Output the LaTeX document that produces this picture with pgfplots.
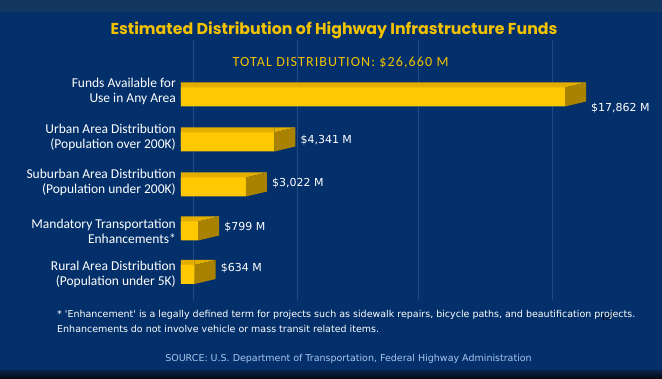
\documentclass[border=0pt]{standalone}
\usepackage{pgfplots}
\usepackage{pgfplotstable}
\pgfplotsset{compat=1.18}
\usepackage{fontspec}
\setmainfont{Carlito}
\newfontfamily\titlefont{Poppins}
\newfontfamily\valfont{DejaVu Sans}
\newfontfamily\subfont[LetterSpace=8]{Carlito}
\definecolor{bgblue}{HTML}{03306A}
\definecolor{bgtop}{HTML}{143761}
\definecolor{bgbot}{HTML}{0A2448}
\definecolor{gridblue}{HTML}{1E4B84}
\definecolor{gold}{HTML}{FFC800}
\definecolor{goldtop}{HTML}{E3AE00}
\definecolor{goldside}{HTML}{A88200}
\definecolor{titleyellow}{HTML}{F2C200}
\definecolor{srcblue}{HTML}{A9C6EE}

\pgfdeclareplotmark{barend}{%
  \pgfpathmoveto{\pgfpoint{0pt}{9.5pt}}%
  \pgfpathlineto{\pgfpoint{21pt}{14.5pt}}%
  \pgfpathlineto{\pgfpoint{0pt}{14.5pt}}%
  \pgfpathclose
  \pgfsetfillcolor{goldtop}\pgfusepath{fill}%
  \pgfpathmoveto{\pgfpoint{0pt}{-9.5pt}}%
  \pgfpathlineto{\pgfpoint{0pt}{9.5pt}}%
  \pgfpathlineto{\pgfpoint{21pt}{14.5pt}}%
  \pgfpathlineto{\pgfpoint{21pt}{-4.5pt}}%
  \pgfpathclose
  \pgfsetfillcolor{goldside}\pgfusepath{fill}%
}

\pgfplotstableread{
v by ly lab
17862 281 270 {\$17,862 M}
4341 236 238 {\$4,341 M}
3022 191 195 {\$3,022 M}
799 147 151 {\$799 M}
634 103.5 110 {\$634 M}
}\datatab

\begin{document}
\begin{tikzpicture}
\useasboundingbox (0pt,0pt) rectangle (662pt,378pt);
\fill[bgblue] (0pt,0pt) rectangle (662pt,378pt);
\fill[bgtop] (0pt,366pt) rectangle (662pt,378pt);
\shade[top color=bgbot, bottom color=black!70!bgbot] (0pt,0pt) rectangle (662pt,8pt);
\begin{axis}[
  at={(181pt,78pt)}, anchor=south west,
  scale only axis, width=473pt, height=260pt,
  xmin=0, xmax=22000, ymin=78, ymax=338,
  axis line style={draw=none}, tick style={draw=none},
  xtick={558,5395,11023,17256}, xticklabel=\empty,
  xmajorgrids, grid style={gridblue, line width=0.7pt},
  ytick={104,147,195.5,240.5,287},
  yticklabels={{Rural Area Distribution\\(Population under 5K)},
               {Mandatory Transportation\\Enhancements*},
               {Suburban Area Distribution\\(Population under 200K)},
               {Urban Area Distribution\\(Population over 200K)},
               {Funds Available for\\Use in Any Area}},
  yticklabel style={align=right, text=white, font=\fontsize{13.5}{15}\selectfont, inner sep=0pt, xshift=-5pt},
  clip=false,
]
\addplot[xbar, bar shift=0pt, bar width=19pt, fill=goldtop, draw=none, yshift=5pt] table[x=v, y=by] {\datatab};
\addplot[only marks, mark=barend] table[x=v, y=by] {\datatab};
\addplot[xbar, bar shift=0pt, bar width=19pt, fill=gold, draw=none] table[x=v, y=by] {\datatab};
\addplot[draw=none, mark=none, nodes near coords, point meta=explicit symbolic,
  every node near coord/.append style={anchor=west, inner sep=0pt, xshift=26pt, text=white, font=\valfont\fontsize{11}{13}\selectfont}]
  table[x=v, y=ly, meta=lab] {\datatab};
\end{axis}
\node[text=titleyellow, font=\titlefont\bfseries\fontsize{15.8}{18}\selectfont] at (334pt,348pt) {Estimated Distribution of Highway Infrastructure Funds};
\node[text=titleyellow, font=\subfont\fontsize{14}{16}\selectfont] at (340.5pt,315pt) {TOTAL DISTRIBUTION: \$26,660 M};
\node[text=white, anchor=north west, align=left, inner sep=0pt, font=\valfont\fontsize{9.5}{15}\selectfont] at (57pt,68pt) {* 'Enhancement' is a legally defined term for projects such as sidewalk repairs, bicycle paths, and beautification projects.\\Enhancements do not involve vehicle or mass transit related items.};
\node[text=srcblue, font=\valfont\fontsize{9.5}{12}\selectfont] at (348.5pt,19pt) {SOURCE: U.S. Department of Transportation, Federal Highway Administration};
\end{tikzpicture}
\end{document}
